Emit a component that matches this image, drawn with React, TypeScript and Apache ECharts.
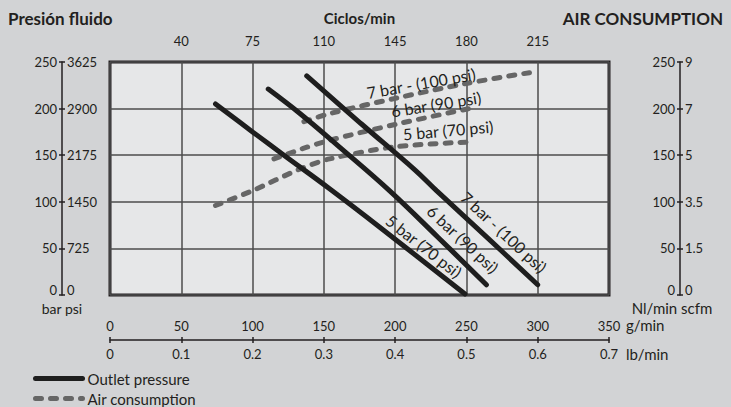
import React, { useEffect, useRef } from 'react';
import * as echarts from 'echarts';

// Tick labels
const flowTicks = ['0', '50', '100', '150', '200', '250', '300', '350'];
const lbTicks = ['0', '0.1', '0.2', '0.3', '0.4', '0.5', '0.6', '0.7'];
const cycleTicks = ['', '40', '75', '110', '145', '180', '215', ''];
const barTicks = ['0', '50', '100', '150', '200', '250'];
const psiTicks = ['0', '725', '1450', '2175', '2900', '3625'];
const nlTicks = ['0', '50', '100', '150', '200', '250'];
const scfmTicks = ['0', '1.5', '3.5', '5', '7', '9'];

// Outlet pressure [g/min, bar]
const outlet5 = [[74, 205], [100, 175], [122, 150], [154, 114], [189, 73], [249, 1]];
const outlet6 = [[111, 221], [133, 195], [160, 160], [196, 112], [230, 62], [264, 11]];
const outlet7 = [[138, 235], [176, 184], [214, 134], [229, 112], [265, 61], [300, 11]];

// Air consumption [g/min, Nl/min]
const air5 = [[74, 96], [100, 112], [133, 135], [154, 146], [200, 159], [250, 164]];
const air6 = [[115, 146], [135, 157], [154, 166], [200, 183], [255, 201]];
const air7 = [[136, 186], [155, 195], [200, 211], [250, 227], [300, 240]];

const curveNames = ['5 bar (70 psi)', '6 bar (90 psi)', '7 bar - (100 psi)'];

const FONT = 'Lato';
const INK = '#231f20';

export default function App() {
  const ref = useRef<HTMLDivElement>(null);
  useEffect(() => {
    if (!ref.current) return;
    const chart = echarts.init(ref.current, undefined, { renderer: 'svg' });
    const tick = { fontFamily: FONT, fontSize: 13, color: INK };
    const zeroRich = { z: { fontFamily: FONT, fontSize: 13, color: INK, padding: [0, 0, 10, 0] } };
    const withZero = (arr: string[]) => (_v: number, i: number) => (i === 0 ? `{z|${arr[i]}}` : arr[i]);
    const solidStyle = { color: '#1e1e1e', width: 5, cap: 'round' as const };
    const dashStyle = { color: '#666666', width: 5, type: [6, 9], cap: 'round' as const };
    const lineLabel = (text: string, x: number, y: number, deg: number) => ({
      type: 'text',
      x,
      y,
      rotation: (deg * Math.PI) / 180,
      z: 100,
      style: {
        text,
        fontFamily: FONT,
        fontSize: 16,
        fill: INK,
        align: 'center',
        verticalAlign: 'middle',
      },
    });
    const plainText = (text: string, x: number, y: number, align: string, size = 14, bold = false) => ({
      type: 'text',
      x,
      y,
      z: 100,
      style: {
        text,
        fontFamily: FONT,
        fontSize: size,
        fontWeight: bold ? 'bold' : 'normal',
        fill: INK,
        align,
        verticalAlign: 'middle',
      },
    });
    const axLine = { show: true, onZero: false, lineStyle: { color: INK, width: 1.5 } };
    const noLine = { show: false, onZero: false };
    const tickOut = { show: true, length: 3, lineStyle: { color: INK, width: 1.5 } };
    const tickIn = { show: true, inside: true, length: 3, lineStyle: { color: INK, width: 1.5 } };
    const flowScale = { type: 'value' as const, min: 0, max: 350, interval: 50 };
    const barScale = { type: 'value' as const, min: 0, max: 250, interval: 50 };
    chart.setOption({
      animation: false,
      backgroundColor: '#d2d3d5',
      textStyle: { fontFamily: FONT },
      grid: {
        left: 110,
        top: 62,
        width: 499,
        height: 233,
        show: true,
        backgroundColor: '#e6e7e8',
        borderColor: INK,
        borderWidth: 3,
        z: 0,
      },
      legend: {
        orient: 'vertical',
        left: 33,
        top: 371,
        padding: 0,
        itemWidth: 47,
        itemHeight: 14,
        itemGap: 5,
        selectedMode: false,
        itemStyle: { opacity: 0 },
        lineStyle: { width: 5, cap: 'round' },
        data: ['Outlet pressure', 'Air consumption'],
        textStyle: { fontFamily: FONT, fontSize: 15, color: INK },
      },
      xAxis: [
        {
          ...flowScale,
          position: 'bottom',
          axisLine: noLine,
          axisTick: { show: false },
          axisLabel: { show: false },
          splitLine: { show: true, lineStyle: { color: '#4d4d4d', width: 1.5 } },
        },
        {
          ...flowScale,
          position: 'top',
          axisLine: noLine,
          axisTick: { show: false },
          splitLine: { show: false },
          axisLabel: { ...tick, margin: 15, formatter: (_v: number, i: number) => cycleTicks[i] },
          name: 'Ciclos/min',
          nameLocation: 'middle',
          nameGap: 37,
          nameTextStyle: { fontFamily: FONT, fontSize: 15, fontWeight: 'bold', color: INK },
        },
        {
          ...flowScale,
          position: 'bottom',
          offset: 45,
          axisLine: axLine,
          axisTick: tickOut,
          splitLine: { show: false },
          axisLabel: { ...tick, inside: true, margin: 8, formatter: (_v: number, i: number) => flowTicks[i] },
        },
        {
          ...flowScale,
          position: 'bottom',
          offset: 45,
          axisLine: noLine,
          axisTick: tickIn,
          splitLine: { show: false },
          axisLabel: { ...tick, margin: 7, formatter: (_v: number, i: number) => lbTicks[i] },
        },
      ],
      yAxis: [
        {
          ...barScale,
          position: 'left',
          axisLine: noLine,
          axisTick: { show: false },
          axisLabel: { show: false },
          splitLine: { show: true, lineStyle: { color: '#4d4d4d', width: 1.5 } },
        },
        {
          ...barScale,
          position: 'left',
          offset: 48,
          axisLine: axLine,
          axisTick: tickOut,
          splitLine: { show: false },
          axisLabel: { ...tick, margin: 5, rich: zeroRich, formatter: withZero(barTicks) },
        },
        {
          ...barScale,
          position: 'left',
          offset: 48,
          axisLine: noLine,
          axisTick: tickIn,
          splitLine: { show: false },
          axisLabel: { ...tick, inside: true, margin: 5, rich: zeroRich, formatter: withZero(psiTicks) },
        },
        {
          ...barScale,
          position: 'right',
          offset: 71,
          axisLine: axLine,
          axisTick: tickOut,
          splitLine: { show: false },
          axisLabel: { ...tick, margin: 5, rich: zeroRich, formatter: withZero(scfmTicks) },
        },
        {
          ...barScale,
          position: 'right',
          offset: 71,
          axisLine: noLine,
          axisTick: tickIn,
          splitLine: { show: false },
          axisLabel: { ...tick, inside: true, margin: 5, rich: zeroRich, formatter: withZero(nlTicks) },
        },
      ],
      series: [
        ...[outlet5, outlet6, outlet7].map((d) => ({
          type: 'line',
          name: 'Outlet pressure',
          data: d,
          symbol: 'none',
          smooth: 0.4,
          lineStyle: solidStyle,
          itemStyle: { color: '#1e1e1e' },
          z: 3,
        })),
        ...[air5, air6, air7].map((d) => ({
          type: 'line',
          name: 'Air consumption',
          data: d,
          symbol: 'none',
          smooth: 0.3,
          lineStyle: dashStyle,
          itemStyle: { color: '#666666' },
          z: 2,
        })),
      ],
      graphic: [
        plainText('Presión fluido', 8, 18, 'left', 17, true),
        plainText('AIR CONSUMPTION', 723, 18, 'right', 17, true),
        plainText('bar psi', 62, 308, 'center'),
        plainText('Nl/min scfm', 672, 308, 'center', 15),
        plainText('g/min', 626, 325, 'left', 15),
        plainText('lb/min', 626, 354, 'left', 15),
        lineLabel(curveNames[0], 424, 246, -38),
        lineLabel(curveNames[1], 463, 239, -43),
        lineLabel(curveNames[2], 504, 232, -43),
        lineLabel(curveNames[2], 421, 83, 10),
        lineLabel(curveNames[1], 436, 104, 9),
        lineLabel(curveNames[0], 448, 130, 5),
      ],
    });
    return () => chart.dispose();
  }, []);
  return <div ref={ref} style={{ position: 'fixed', left: 0, top: 0, width: 731, height: 407 }} />;
}
